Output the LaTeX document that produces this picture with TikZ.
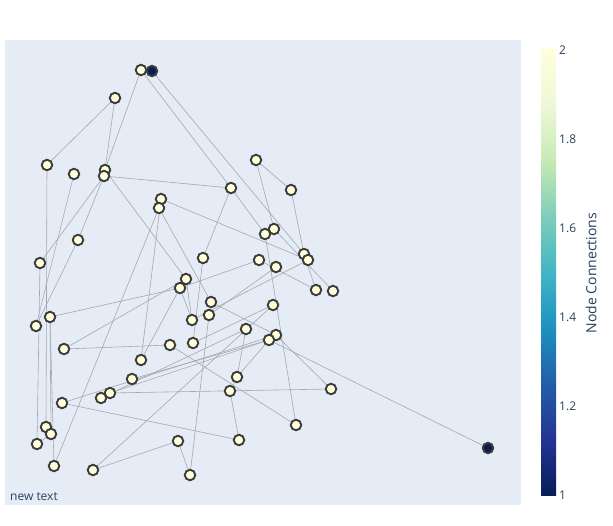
\documentclass[tikz,border=0pt]{standalone}
\usepackage{fontspec}
\setmainfont{Open Sans}
\usetikzlibrary{backgrounds}
\definecolor{plotbg}{RGB}{229,236,246}
\definecolor{nfill}{RGB}{255,255,217}
\definecolor{dfill}{RGB}{8,29,88}
\definecolor{nline}{RGB}{60,60,60}
\definecolor{edgec}{RGB}{165,168,174}
\definecolor{txt}{RGB}{42,63,95}
\definecolor{c0}{RGB}{8,29,88}
\definecolor{c1}{RGB}{37,52,148}
\definecolor{c2}{RGB}{34,94,168}
\definecolor{c3}{RGB}{29,145,192}
\definecolor{c4}{RGB}{65,182,196}
\definecolor{c5}{RGB}{127,205,187}
\definecolor{c6}{RGB}{199,233,180}
\definecolor{c7}{RGB}{237,248,217}
\definecolor{c8}{RGB}{255,255,217}
\tikzset{
  vtx/.style={circle,draw=nline,line width=1.9pt,fill=nfill,minimum size=10.5pt,inner sep=0pt},
  vtxd/.style={vtx,fill=dfill},
  edg/.style={draw=edgec,line width=0.6pt},
  tick/.style={text=txt,font=\fontsize{12}{12}\selectfont,anchor=west,inner sep=0pt},
}
\begin{document}
\begin{tikzpicture}[x=1pt,y=-1pt]
\useasboundingbox (0,0) rectangle (613,525);
% nodes
\node[vtx] (n1) at (141,70) {};
\node[vtxd] (n2) at (152,71) {};
\node[vtx] (n3) at (115,98) {};
\node[vtx] (n4) at (47,165) {};
\node[vtx] (n5) at (105,170) {};
\node[vtx] (n6) at (74,174) {};
\node[vtx] (n7) at (104,176) {};
\node[vtx] (n8) at (256,160) {};
\node[vtx] (n9) at (291,190) {};
\node[vtx] (n10) at (231,188) {};
\node[vtx] (n11) at (161,199) {};
\node[vtx] (n12) at (159,208) {};
\node[vtx] (n13) at (78,240) {};
\node[vtx] (n14) at (40,263) {};
\node[vtx] (n15) at (274,229) {};
\node[vtx] (n16) at (265,234) {};
\node[vtx] (n17) at (304,254) {};
\node[vtx] (n18) at (308,260) {};
\node[vtx] (n19) at (203,258) {};
\node[vtx] (n20) at (259,260) {};
\node[vtx] (n21) at (276,267) {};
\node[vtx] (n22) at (186,279) {};
\node[vtx] (n23) at (180,288) {};
\node[vtx] (n24) at (316,290) {};
\node[vtx] (n25) at (333,291) {};
\node[vtx] (n26) at (211,302) {};
\node[vtx] (n27) at (209,315) {};
\node[vtx] (n28) at (192,320) {};
\node[vtx] (n29) at (273,305) {};
\node[vtx] (n30) at (36,326) {};
\node[vtx] (n31) at (50,317) {};
\node[vtx] (n32) at (246,329) {};
\node[vtx] (n33) at (276,335) {};
\node[vtx] (n34) at (269,340) {};
\node[vtx] (n35) at (193,343) {};
\node[vtx] (n36) at (170,345) {};
\node[vtx] (n37) at (64,349) {};
\node[vtx] (n38) at (141,360) {};
\node[vtx] (n39) at (237,377) {};
\node[vtx] (n40) at (132,379) {};
\node[vtx] (n41) at (331,389) {};
\node[vtx] (n42) at (230,391) {};
\node[vtx] (n43) at (110,393) {};
\node[vtx] (n44) at (101,398) {};
\node[vtx] (n45) at (62,403) {};
\node[vtx] (n46) at (296,425) {};
\node[vtxd] (n47) at (488,448) {};
\node[vtx] (n48) at (46,427) {};
\node[vtx] (n49) at (51,434) {};
\node[vtx] (n50) at (37,444) {};
\node[vtx] (n51) at (178,441) {};
\node[vtx] (n52) at (239,440) {};
\node[vtx] (n53) at (54,466) {};
\node[vtx] (n54) at (93,470) {};
\node[vtx] (n55) at (190,475) {};
\begin{pgfonlayer}{background}
\fill[white] (0,0) rectangle (613,525);
\fill[plotbg] (5,40) rectangle (521,505);
\foreach \a/\b in {n1/n10,n1/n5,n2/n17,n3/n4,n3/n5,n4/n48,n5/n22,n7/n10,n7/n14,n7/n13,
  n6/n30,n13/n30,n14/n50,n50/n49,n31/n49,n31/n53,n12/n53,n11/n38,n31/n23,n23/n20,
  n8/n9,n8/n15,n9/n17,n10/n16,n16/n46,n15/n25,n11/n18,n20/n24,n37/n36,n37/n22,
  n22/n28,n23/n28,n19/n35,n10/n19,n12/n26,n26/n33,n27/n55,n27/n21,n28/n18,n36/n46,
  n35/n29,n34/n47,n33/n41,n43/n41,n42/n39,n42/n52,n39/n34,n39/n32,n45/n52,n45/n33,
  n51/n54,n51/n55,n54/n29,n38/n23,n40/n34,n44/n32,n43/n34,n17/n24}
  \draw[edg] (\a.center) -- (\b.center);
\end{pgfonlayer}
% colorbar
\foreach \i/\ca/\cb in {0/c1/c0,1/c2/c1,2/c3/c2,3/c4/c3,4/c5/c4,5/c6/c5,6/c7/c6,7/c8/c7}{
  \shade[top color=\cb,bottom color=\ca,shading angle=180] (541,{495-55.625*\i-55.625-0.3}) rectangle (556,{495-55.625*\i});
}
\node[tick] (t2) at (559,50) {2};
\node[tick] (t18) at (559,139) {1.8};
\node[tick] (t16) at (559,228) {1.6};
\node[tick] (t14) at (559,317) {1.4};
\node[tick] (t12) at (559,406) {1.2};
\node[tick] (t1) at (559,495) {1};
\node[text=txt,font=\fontsize{14}{14}\selectfont,rotate=90,inner sep=0pt] (cbt) at (591,273) {Node Connections};
\node[text=txt,font=\fontsize{12}{12}\selectfont,anchor=west,inner sep=0pt] (nt) at (10,497) {new text};
\end{tikzpicture}
\end{document}
